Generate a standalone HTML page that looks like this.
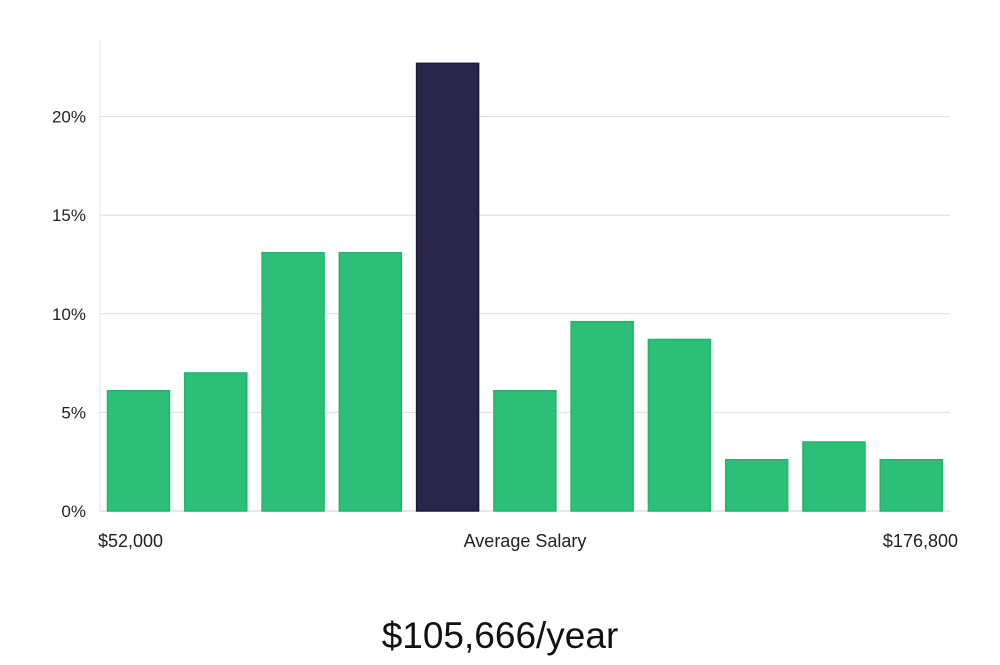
<!DOCTYPE html>
<html><head><meta charset="utf-8"><style>
body{margin:0;background:#fff;width:1000px;height:660px;overflow:hidden;font-family:"Liberation Sans","DejaVu Sans",sans-serif}
</style></head><body>
<svg id="chart" width="1000" height="660" xmlns="http://www.w3.org/2000/svg"></svg>
<script>
const categories = ["b1","b2","b3","b4","b5","b6","b7","b8","b9","b10","b11"];
const values = [6.1,7.0,13.1,13.1,22.7,6.1,9.6,8.7,2.6,3.5,2.6];
const highlightIndex = 4;
const yTicks = [0,5,10,15,20];
const yTickLabels = ["0%","5%","10%","15%","20%"];
const xLabels = ["$52,000","Average Salary","$176,800"];
const title = "$105,666/year";

const NS="http://www.w3.org/2000/svg";
const svg=document.getElementById('chart');
const L=100,R=950,B=511,PXPER=19.72;
const y=v=>B-v*PXPER;
const step=(R-L)/categories.length;
const x=i=>L+i*step+7;
const bw=63;
function mk(t,a,txt){const e=document.createElementNS(NS,t);for(const k in a)e.setAttribute(k,a[k]);if(txt!==undefined)e.textContent=txt;svg.appendChild(e);return e;}

const ax=mk('line',{x1:L,x2:L,y1:40,y2:B,stroke:'#e3e3e3','stroke-width':1});


yTicks.forEach((t,i)=>{
  const g=mk('line',{x1:L,x2:R,y1:y(t),y2:y(t),stroke:t===0?'#cfcfcf':'#dedede','stroke-width':1});
  
  
  const tx=mk('text',{x:86,y:y(t)+6,'text-anchor':'end','font-size':17,fill:'#222'},yTickLabels[i]);
  
  
});
values.forEach((v,i)=>{
  const hi=i===highlightIndex;
  const r=mk('rect',{x:x(i)+0.5,y:y(v),width:bw-1,height:B-y(v),fill:hi?'#29264a':'#2bbf77',stroke:hi?'#1b1838':'#22b46d','stroke-width':1.5});
  
  
});
const xl=[[98,'start'],[525,'middle'],[958,'end']];
xLabels.forEach((s,i)=>{
  const t=mk('text',{x:xl[i][0],y:547,'text-anchor':xl[i][1],'font-size':18,fill:'#222'},s);
  
  
});
const tt=mk('text',{x:500,y:648,'text-anchor':'middle','font-size':37,fill:'#111'},title);


</script>
</body></html>
